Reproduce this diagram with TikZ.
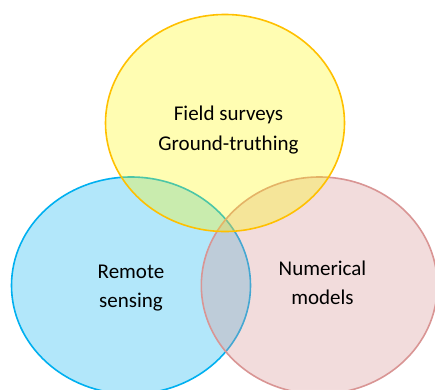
\documentclass[tikz,border=0pt]{standalone}
\usepackage{fontspec}
\setmainfont{Carlito}
\definecolor{yfill}{RGB}{255,250,0}
\definecolor{bfill}{RGB}{0,176,240}
\definecolor{pfill}{RGB}{217,149,148}
\definecolor{ystroke}{RGB}{255,192,0}
\definecolor{bstroke}{RGB}{0,176,240}
\definecolor{pstroke}{RGB}{217,149,148}
\tikzset{
  lbl/.style={anchor=base, font=\fontsize{21}{25}\selectfont, text=black, inner sep=0pt},
  rim/.style={line width=1.6pt}
}
\begin{document}
\begin{tikzpicture}[x=1pt,y=-1pt]
\useasboundingbox (0,0) rectangle (435,389);
\fill[white] (0,0) rectangle (435,389);
\path[rim, draw=bstroke, fill=bfill, fill opacity=0.3] (131,285.5) ellipse [x radius=119.5, y radius=108.5];
\path[rim, draw=pstroke, fill=pfill, fill opacity=0.32] (319.3,285.5) ellipse [x radius=118, y radius=108.5];
\path[rim, draw=ystroke, fill=yfill, fill opacity=0.3] (225,123) ellipse [x radius=119.5, y radius=108.5];
\node[lbl] (f1) at (228.5,120) {Field surveys};
\node[lbl] (f2) at (228.5,150) {Ground-truthing};
\node[lbl] (r1) at (131,278) {Remote};
\node[lbl] (r2) at (131,307) {sensing};
\node[lbl] (n1) at (322.5,275) {Numerical};
\node[lbl] (n2) at (322.5,304) {models};
\end{tikzpicture}
\end{document}
